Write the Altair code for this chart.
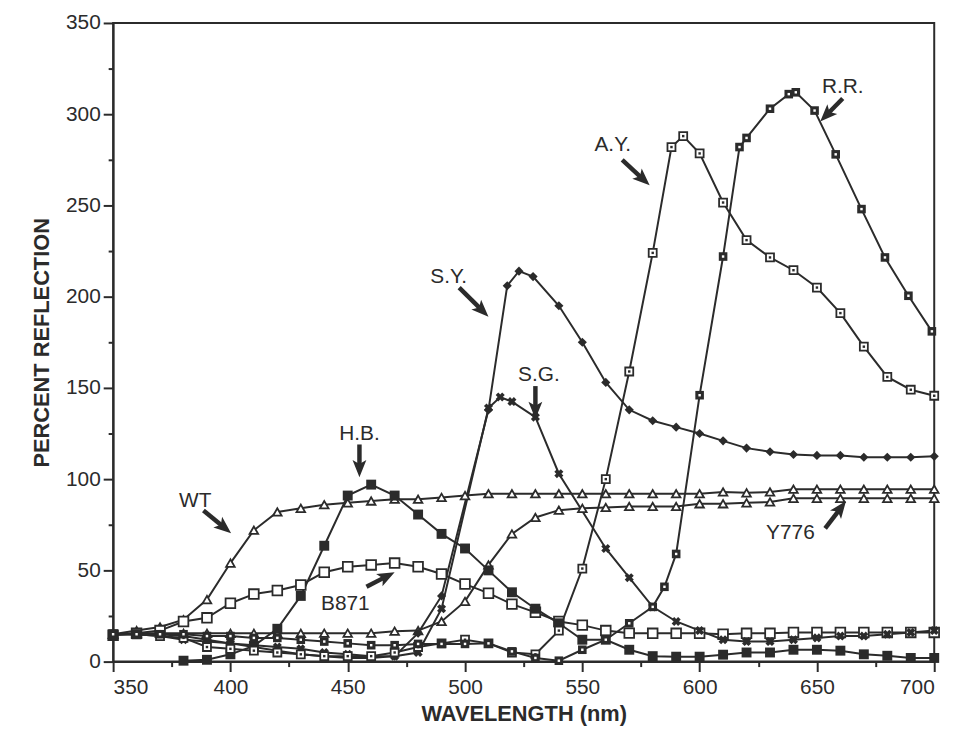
import math
import altair as alt
import pandas as pd

# ---------------- data ----------------
wt_x = [350,360,370,380,390,400,410,420,430,440,450,460,470,480,490,500,510,520,530,540,550,560,570,580,590,600,610,620,630,640,650,660,670,680,690,700]
wt_y = [15,17,19,23,34,54,72,82,84,86,87,88,89,89,90,91,92,92,92,92,92,92,92,92,92,92,93,92.5,93,94.5,94.5,94.5,94.5,94.5,94.5,94.5]

y776_x = wt_x
y776_y = [15,15.5,15.5,15.5,15.5,15.5,15.5,15.5,15.5,15.6,15.6,15.6,16.7,17,22,33,53,70,79,83,84,84.5,85,85,85,86.5,86.5,87,87.5,89.5,89.5,89.5,89.5,89.5,89.5,89.5]

b871_x = wt_x
b871_y = [14.5,15.5,17,22,24,32,37,39,42,49,52,53,54,52,48,42.5,37.5,31.5,27,22,20,17,15.6,15.5,15.5,15.5,15,15.5,15.5,16,16,16,16,16,16,16]

hb_x = [380,390,400,410,420,430,440,450,460,470,480,490,500,510,520,530,540,550,560,570,580,590,600,610,620,630,640,650,660,670,680,690,700]
hb_y = [0.5,1,4,8.6,18,36,63.5,91,97,91,80.6,70,62,50,38,29,21,12,12,6.5,3,2.7,2.7,3.8,5,5,6.5,6.5,6,4,3.2,2,2]

sy_x = [350,360,370,380,390,400,410,420,430,440,450,460,470,480,490,510,518,523,529,540,550,560,570,580,590,600,610,620,630,640,650,660,670,680,690,700]
sy_y = [15,15,15,14,12,10,8,6,4,3,2,2,3,15.6,36,138,206,214,211,195,175,153,138,132,128.5,125,121,117,115,113.5,113,113,112,112,112,112.5]

sg_x = [350,360,370,380,390,400,410,420,430,440,450,460,470,480,490,510,515,520,530,540,560,570,580,590,600,610,620,630,640,650,660,670,680,690,700]
sg_y = [15,15,14,12,11,10,9,8,7,5,4,3,3,5,29,139,145,142.5,134,103,62,46,30,22,17,12,11,11,12,13,14,14,15,16,17]

ay_x = [350,360,370,380,390,400,410,420,430,440,450,460,470,480,490,500,510,520,530,540,550,560,570,580,588,593,600,610,620,630,640,650,660,670,680,690,700]
ay_y = [15,15,14,13,8,7,6,5,4,3,3,3,5,8,10,12,10,5,4,17,51,100,159,224,282,288,278.5,251.6,231,221.5,214.5,205,191,172.6,156,149,145.7]

rr_x = [350,360,370,380,390,400,410,420,430,440,450,460,470,480,490,500,510,520,530,540,550,560,570,580,585,590,600,610,617,620,630,638,641,649,658,669,679,689,699]
rr_y = [15,15,15,15,14,14,13,13,12,11,10,9,9,9.7,9.7,9.7,10,5.6,2,0.5,6.5,12,21,30,41,59,146,222,282,287,303,311,312,302,278,248,221.5,200.5,181]

series = [
    ("WT", wt_x, wt_y), ("Y776", y776_x, y776_y), ("B871", b871_x, b871_y),
    ("H.B.", hb_x, hb_y), ("S.Y.", sy_x, sy_y), ("S.G.", sg_x, sg_y),
    ("A.Y.", ay_x, ay_y), ("R.R.", rr_x, rr_y),
]

# annotation labels: text position and arrow tail/head (data units)
lab_text = ["WT", "H.B.", "B871", "S.Y.", "S.G.", "A.Y.", "R.R.", "Y776"]
lab_x = [385, 455, 449, 493, 531.5, 563, 661, 638.7]
lab_y = [88, 124.5, 31.7, 210.7, 157, 283, 315, 70.4]
tail_x = [388.5, 455, 458, 497.5, 530, 567, 661, 653.5]
tail_y = [82.8, 119, 41, 205, 151, 275, 308.6, 73]
head_x = [400.3, 455, 470, 510, 530, 578.7, 651.4, 662.4]
head_y = [70.4, 101, 49, 189, 133, 261, 296, 88]

# ---------------- build tables ----------------
rows = []
for name, xs, ys in series:
    for i, (a, b) in enumerate(zip(xs, ys)):
        rows.append({"series": name, "nm": a, "val": b, "ord": i})
df = pd.DataFrame(rows)

W, H = 828, 644
PXX = W / 350.0
PXY = H / 350.0
arr = []
for t, lx, ly, tx, ty, hx, hy in zip(lab_text, lab_x, lab_y, tail_x, tail_y, head_x, head_y):
    dx = (hx - tx) * PXX
    dy = -(hy - ty) * PXY
    ang = math.degrees(math.atan2(dx, -dy)) % 360
    L = math.hypot(dx, dy)
    f = max(0.0, (L - 13) / L)
    arr.append({"t": t, "lx": lx, "ly": ly, "tx": tx, "ty": ty,
                "sx": tx + (hx - tx) * f, "sy": ty + (hy - ty) * f,
                "hx": hx, "hy": hy, "ang": ang})
adf = pd.DataFrame(arr)

INK = "#2b2b2b"
FONT = "Liberation Sans"

xs = alt.Scale(domain=[350, 700], nice=False, zero=False)
ys = alt.Scale(domain=[0, 350], nice=False, zero=False)

xmaj = alt.Axis(values=list(range(350, 701, 50)), title="WAVELENGTH (nm)", tickSize=10,
                tickWidth=2, tickColor=INK, domainColor=INK, domainWidth=2, grid=False,
                labelFont=FONT, labelFontSize=21, labelColor=INK, labelPadding=5,
                titleFont=FONT, titleFontSize=22, titleFontWeight="bold", titleColor=INK,
                titlePadding=6, orient="bottom")
ymaj = alt.Axis(values=list(range(0, 351, 50)), title="PERCENT REFLECTION", tickSize=10,
                tickWidth=2, tickColor=INK, domainColor=INK, domainWidth=2, grid=False,
                labelFont=FONT, labelFontSize=21, labelColor=INK, labelPadding=3,
                titleFont=FONT, titleFontSize=22, titleFontWeight="bold", titleColor=INK,
                titlePadding=12, orient="left")
xmin = alt.Axis(values=list(range(375, 700, 50)), labels=False, title=None, tickSize=5,
                tickWidth=2, tickColor=INK, domain=False, grid=False, orient="bottom")
ymin = alt.Axis(values=list(range(25, 350, 50)), labels=False, title=None, tickSize=5,
                tickWidth=2, tickColor=INK, domain=False, grid=False, orient="left")

base = alt.Chart(df)

lines = base.mark_line(color=INK, strokeWidth=2).encode(
    x=alt.X("nm:Q", scale=xs, axis=xmaj),
    y=alt.Y("val:Q", scale=ys, axis=ymaj),
    detail="series:N", order="ord:Q")

def pts(names, **kw):
    return base.transform_filter(alt.FieldOneOfPredicate(field="series", oneOf=names)).mark_point(
        **kw).encode(x=alt.X("nm:Q", scale=xs, axis=None), y=alt.Y("val:Q", scale=ys, axis=None))

tri = base.transform_filter(alt.FieldOneOfPredicate(field="series", oneOf=["WT", "Y776"])).mark_point(
    shape="triangle-up", size=75, filled=True, fill="white", stroke=INK, strokeWidth=1.8, opacity=1
).encode(x=alt.X("nm:Q", scale=xs, axis=xmin), y=alt.Y("val:Q", scale=ys, axis=ymin))
hb = pts(["H.B."], shape="square", size=100, filled=True, color=INK, opacity=1)
b871 = pts(["B871"], shape="square", size=95, filled=True, fill="white", stroke=INK, strokeWidth=1.8, opacity=1)
sy = pts(["S.Y."], shape="diamond", size=85, filled=True, color=INK, opacity=1)
sg = pts(["S.G."], shape="cross", angle=45, size=85, filled=True, color=INK, opacity=1)
ay = pts(["A.Y."], shape="square", size=65, filled=True, fill="white", stroke=INK, strokeWidth=1.8, opacity=1)
ay_dot = pts(["A.Y."], shape="square", size=6, filled=True, color=INK, opacity=1)
rr = pts(["R.R."], shape="square", size=75, filled=True, color=INK, opacity=1)
rr_dot = pts(["R.R."], shape="square", size=6, filled=True, color="white", opacity=1)

ab = alt.Chart(adf)
labels = ab.mark_text(font=FONT, fontSize=21, color=INK, align="center", baseline="middle").encode(
    x=alt.X("lx:Q", scale=xs, axis=None), y=alt.Y("ly:Q", scale=ys, axis=None), text="t:N")
shafts = ab.mark_rule(color=INK, strokeWidth=4.5).encode(
    x=alt.X("tx:Q", scale=xs, axis=None), y=alt.Y("ty:Q", scale=ys, axis=None), x2="sx:Q", y2="sy:Q")
heads = ab.mark_point(shape="M0,0L0.6,1.5L0,1.15L-0.6,1.5Z", size=540, filled=True, color=INK, opacity=1).encode(
    x=alt.X("hx:Q", scale=xs, axis=None), y=alt.Y("hy:Q", scale=ys, axis=None), angle=alt.Angle("ang:Q", scale=None))

chart = alt.layer(lines, tri, b871, hb, sy, sg, ay, ay_dot, rr, rr_dot, shafts, heads, labels).resolve_axis(
    x="independent", y="independent"
).properties(
    width=W, height=H, autosize=alt.AutoSizeParams(type="none"),
    padding={"left": 106, "top": 12, "right": 27, "bottom": 82}, background="white"
).configure_view(stroke=INK, strokeWidth=2)

chart.save("out.html", embed_options={"renderer": "svg", "actions": False})
